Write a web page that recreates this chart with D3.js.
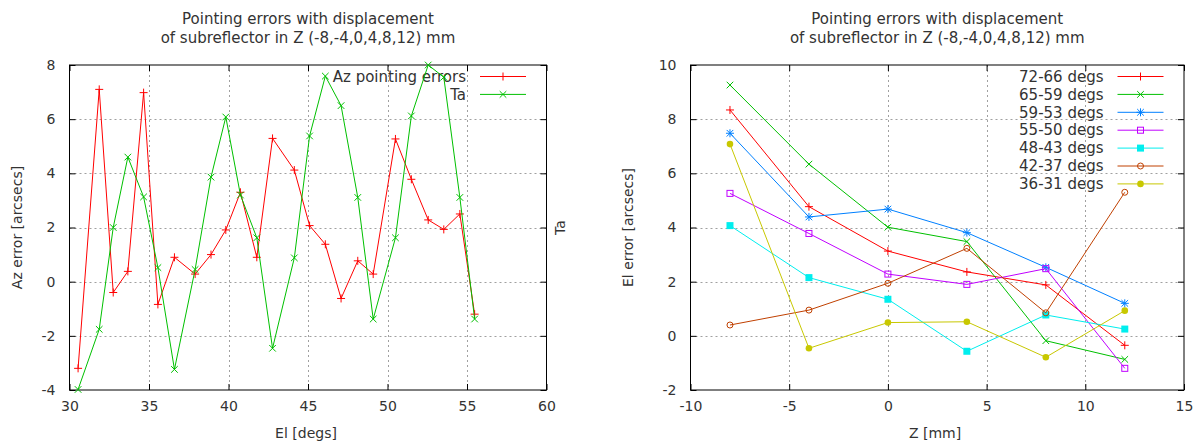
<!DOCTYPE html>
<html>
<head>
<meta charset="utf-8">
<script src="https://cdn.jsdelivr.net/npm/d3@7"></script>
<style>
  html, body { margin: 0; padding: 0; background: #fff; }
  svg text { font-family: "DejaVu Sans", sans-serif; font-size: 14px; fill: #333; }
  svg text.big { font-size: 15px; }
</style>
</head>
<body>
<svg id="chart" width="1194" height="443"></svg>
<script>
// ---------- Data: left panel ----------
const elDegs = [30.54, 31.87, 32.75, 33.67, 34.66, 35.56, 36.6, 37.9, 38.9, 39.83,
                40.75, 41.78, 42.77, 44.14, 45.1, 46.09, 47.08, 48.13, 49.1, 50.5,
                51.5, 52.56, 53.54, 54.55, 55.48];
const azErrors = [-3.2, 7.1, -0.4, 0.38, 6.98, -0.84, 0.9, 0.28, 1.0, 1.91,
                  3.3, 0.9, 5.29, 4.12, 2.07, 1.38, -0.62, 0.77, 0.28, 5.27,
                  3.78, 2.28, 1.93, 2.5, -1.2];
const taValues = [-3.98, -1.76, 2.0, 4.6, 3.13, 0.52, -3.24, 0.45, 3.86, 6.08,
                  3.2, 1.62, -2.46, 0.88, 5.38, 7.59, 6.5, 3.11, -1.38, 1.62,
                  6.12, 8.0, 7.55, 3.11, -1.38];
const leftSeriesLabels = ["Az pointing errors", "Ta"];
const leftXTicks = [30, 35, 40, 45, 50, 55, 60];
const leftYTicks = [-4, -2, 0, 2, 4, 6, 8];

// ---------- Data: right panel ----------
const zPositions = [-8, -4, 0, 4, 8, 12];
const el72_66 = [8.34, 4.77, 3.13, 2.36, 1.88, -0.35];
const el65_59 = [9.26, 6.34, 4.01, 3.48, -0.18, -0.87];
const el59_53 = [7.48, 4.39, 4.68, 3.81, 2.53, 1.2];
const el55_50 = [5.26, 3.78, 2.28, 1.9, 2.48, -1.2];
const el48_43 = [4.07, 2.15, 1.35, -0.57, 0.77, 0.25];
const el42_37 = [0.4, 0.95, 1.94, 3.23, 0.85, 5.3];
const el36_31 = [7.08, -0.46, 0.49, 0.52, -0.79, 0.93];
const rightSeriesLabels = ["72-66 degs", "65-59 degs", "59-53 degs", "55-50 degs",
                           "48-43 degs", "42-37 degs", "36-31 degs"];
const rightXTicks = [-10, -5, 0, 5, 10, 15];
const rightYTicks = [-2, 0, 2, 4, 6, 8, 10];

const titleLines = ["Pointing errors with displacement",
                    "of subreflector in Z (-8,-4,0,4,8,12) mm"];

// ---------- Styles ----------
const colors = ["#ff0000", "#00c000", "#0080ff", "#c000ff", "#00eeee", "#c04000", "#c8c800"];
const markerTypes = ["plus", "cross", "star", "openSquare", "filledSquare", "openCircle", "filledCircle"];

const svg = d3.select("#chart");
svg.append("rect").attr("width", 1194).attr("height", 443).attr("fill", "#fff");

function drawMarker(g, type, x, y, color) {
  const s = 4, c = 3.3;
  if (type === "plus") {
    g.append("path").attr("d", `M${x-s},${y}H${x+s}M${x},${y-s}V${y+s}`)
      .attr("stroke", color).attr("stroke-width", 1).attr("fill", "none");
  } else if (type === "cross") {
    g.append("path").attr("d", `M${x-c},${y-c}L${x+c},${y+c}M${x-c},${y+c}L${x+c},${y-c}`)
      .attr("stroke", color).attr("stroke-width", 1).attr("fill", "none");
  } else if (type === "star") {
    g.append("path").attr("d", `M${x-s},${y}H${x+s}M${x},${y-s}V${y+s}M${x-c},${y-c}L${x+c},${y+c}M${x-c},${y+c}L${x+c},${y-c}`)
      .attr("stroke", color).attr("stroke-width", 1).attr("fill", "none");
  } else if (type === "openSquare") {
    g.append("rect").attr("x", x-3).attr("y", y-3).attr("width", 6).attr("height", 6)
      .attr("stroke", color).attr("fill", "none").attr("stroke-width", 1);
  } else if (type === "filledSquare") {
    g.append("rect").attr("x", x-3.5).attr("y", y-3.5).attr("width", 7).attr("height", 7)
      .attr("fill", color);
  } else if (type === "openCircle") {
    g.append("circle").attr("cx", x).attr("cy", y).attr("r", 3)
      .attr("stroke", color).attr("fill", "none").attr("stroke-width", 1);
  } else if (type === "filledCircle") {
    g.append("circle").attr("cx", x).attr("cy", y).attr("r", 3.3).attr("fill", color);
  }
}

function drawPanel(opt) {
  const x = d3.scaleLinear().domain(opt.xDomain).range(opt.xRange);
  const y = d3.scaleLinear().domain(opt.yDomain).range(opt.yRange);
  const [x0, x1] = opt.xRange, [y0, y1] = [opt.yRange[1], opt.yRange[0]];
  const w = x1 - x0, h = y1 - y0;
  const g = svg.append("g");
  const fmt = d => String(d);

  // grid
  const grid = g.append("g").attr("stroke", "#a0a0a0").attr("stroke-width", 1)
    .attr("stroke-dasharray", "2,3");
  opt.xTicks.slice(1, -1).forEach(t => {
    grid.append("line").attr("x1", Math.round(x(t)) + 0.5).attr("x2", Math.round(x(t)) + 0.5)
      .attr("y1", y0).attr("y2", y1);
  });
  opt.yTicks.slice(1, -1).forEach(t => {
    grid.append("line").attr("y1", Math.round(y(t)) + 0.5).attr("y2", Math.round(y(t)) + 0.5)
      .attr("x1", x0).attr("x2", x1);
  });

  // axes
  const axB = g.append("g").attr("transform", `translate(0,${y1})`)
    .call(d3.axisBottom(x).tickValues(opt.xTicks).tickSize(-6).tickPadding(11).tickFormat(fmt));
  const axL = g.append("g").attr("transform", `translate(${x0},0)`)
    .call(d3.axisLeft(y).tickValues(opt.yTicks).tickSize(-6).tickPadding(14).tickFormat(fmt));
  const axT = g.append("g").attr("transform", `translate(0,${y0})`)
    .call(d3.axisTop(x).tickValues(opt.xTicks).tickSize(-6).tickFormat(""));
  const axR = g.append("g").attr("transform", `translate(${x1},0)`)
    .call(d3.axisRight(y).tickValues(opt.yTicks).tickSize(-6).tickFormat(""));
  [axB, axL, axT, axR].forEach(a => {
    a.select(".domain").remove();
    a.selectAll("line").attr("stroke", "#000");
    a.selectAll("text").attr("font-family", null).attr("font-size", null).attr("fill", null);
    a.attr("font-family", null).attr("font-size", null);
  });
  g.append("rect").attr("x", x0).attr("y", y0).attr("width", w).attr("height", h)
    .attr("fill", "none").attr("stroke", "#000").attr("stroke-width", 1);

  // titles
  const cx = (x0 + x1) / 2;
  g.append("text").attr("class", "big").attr("x", cx).attr("y", 24).attr("text-anchor", "middle").text(titleLines[0]);
  g.append("text").attr("class", "big").attr("x", cx).attr("y", 43).attr("text-anchor", "middle").text(titleLines[1]);
  g.append("text").attr("x", opt.xLabelX).attr("y", 438).attr("text-anchor", "middle").text(opt.xLabel);
  g.append("text").attr("transform", `translate(${opt.yLabelX},${(y0 + y1) / 2}) rotate(-90)`)
    .attr("text-anchor", "middle").attr("dy", "0.35em").text(opt.yLabel);
  if (opt.y2Label) {
    g.append("text").attr("transform", `translate(${x1 + 14},${(y0 + y1) / 2}) rotate(-90)`)
      .attr("text-anchor", "middle").attr("dy", "0.35em").text(opt.y2Label);
  }

  // series
  const line = d3.line().x(d => x(d[0])).y(d => y(d[1]));
  opt.series.forEach((s, i) => {
    const pts = opt.xs.map((xv, j) => [xv, s.values[j]]);
    const sg = g.append("g");
    sg.append("path").attr("d", line(pts)).attr("fill", "none")
      .attr("stroke", colors[i]).attr("stroke-width", 1);
    pts.forEach(p => drawMarker(sg, markerTypes[i], x(p[0]), y(p[1]), colors[i]));
    // legend
    const ly = opt.legendY + i * 17.9;
    const lx = x1 - 20.5;
    g.append("text").attr("class", "big").attr("x", lx - 60).attr("y", ly).attr("dy", "0.35em")
      .attr("text-anchor", "end").text(s.label);
    g.append("line").attr("x1", lx - 46).attr("x2", lx).attr("y1", ly).attr("y2", ly)
      .attr("stroke", colors[i]).attr("stroke-width", 1);
    drawMarker(g, markerTypes[i], lx - 23, ly, colors[i]);
  });
}

drawPanel({
  xDomain: [30, 60], xRange: [69.5, 546.5],
  yDomain: [-4, 8], yRange: [390, 65],
  xTicks: leftXTicks, yTicks: leftYTicks,
  xs: elDegs,
  series: [{ label: leftSeriesLabels[0], values: azErrors },
           { label: leftSeriesLabels[1], values: taValues }],
  xLabel: "El [degs]", xLabelX: 306,
  yLabel: "Az error [arcsecs]", yLabelX: 17,
  y2Label: "Ta",
  legendY: 76.5
});

drawPanel({
  xDomain: [-10, 15], xRange: [690.5, 1184],
  yDomain: [-2, 10], yRange: [390, 65],
  xTicks: rightXTicks, yTicks: rightYTicks,
  xs: zPositions,
  series: [el72_66, el65_59, el59_53, el55_50, el48_43, el42_37, el36_31]
    .map((v, i) => ({ label: rightSeriesLabels[i], values: v })),
  xLabel: "Z [mm]", xLabelX: 935,
  yLabel: "El error [arcsecs]", yLabelX: 628,
  legendY: 76.5
});
</script>
</body>
</html>
